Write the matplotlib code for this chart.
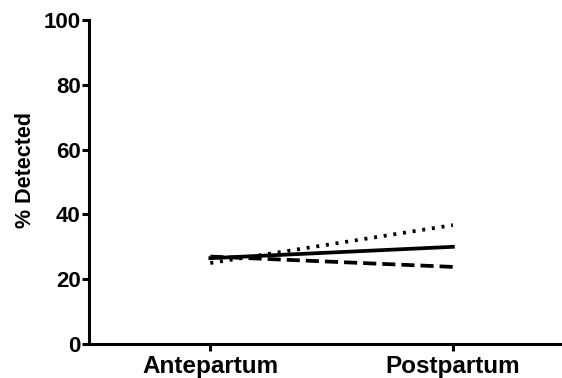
import matplotlib
matplotlib.use("Agg")
import matplotlib.pyplot as plt

groups = ["Antepartum", "Postpartum"]
series_solid = [26.5, 30.0]
series_dotted = [25.0, 36.7]
series_dashed = [27.0, 23.8]
y_ticks = [0, 20, 40, 60, 80, 100]

plt.rcParams["font.family"] = ["Liberation Sans", "DejaVu Sans"]
plt.rcParams["font.weight"] = "bold"

fig = plt.figure(figsize=(5.62, 3.78), dpi=100)
ax = fig.add_axes([0.1584, 0.0899, 0.8416, 0.8571])

x = list(range(len(groups)))
ax.plot(x, series_solid, color="black", linewidth=2.7, linestyle="-")
ax.plot(x, series_dotted, color="black", linewidth=2.7, linestyle=(0, (0.8, 1.8)))
ax.plot(x, series_dashed, color="black", linewidth=2.7, linestyle=(0, (3.5, 1.6)))

ax.set_xlim(-0.5, 1.45)
ax.set_ylim(0, 100)
ax.set_yticks(y_ticks)
ax.set_xticks(x)
ax.set_xticklabels(groups, fontsize=17.5, fontweight="bold")
ax.tick_params(axis="y", labelsize=16, width=2.2, length=5, pad=1)
ax.tick_params(axis="x", width=2.2, length=5, pad=3)
for lbl in ax.get_yticklabels():
    lbl.set_fontweight("bold")
ax.set_ylabel("% Detected", fontsize=15.5, fontweight="bold")
ax.yaxis.set_label_coords(-0.112, 0.537)

ax.spines["top"].set_visible(False)
ax.spines["right"].set_visible(False)
ax.spines["left"].set_linewidth(2.2)
ax.spines["bottom"].set_linewidth(2.2)

fig.savefig("out.png", dpi=100)
